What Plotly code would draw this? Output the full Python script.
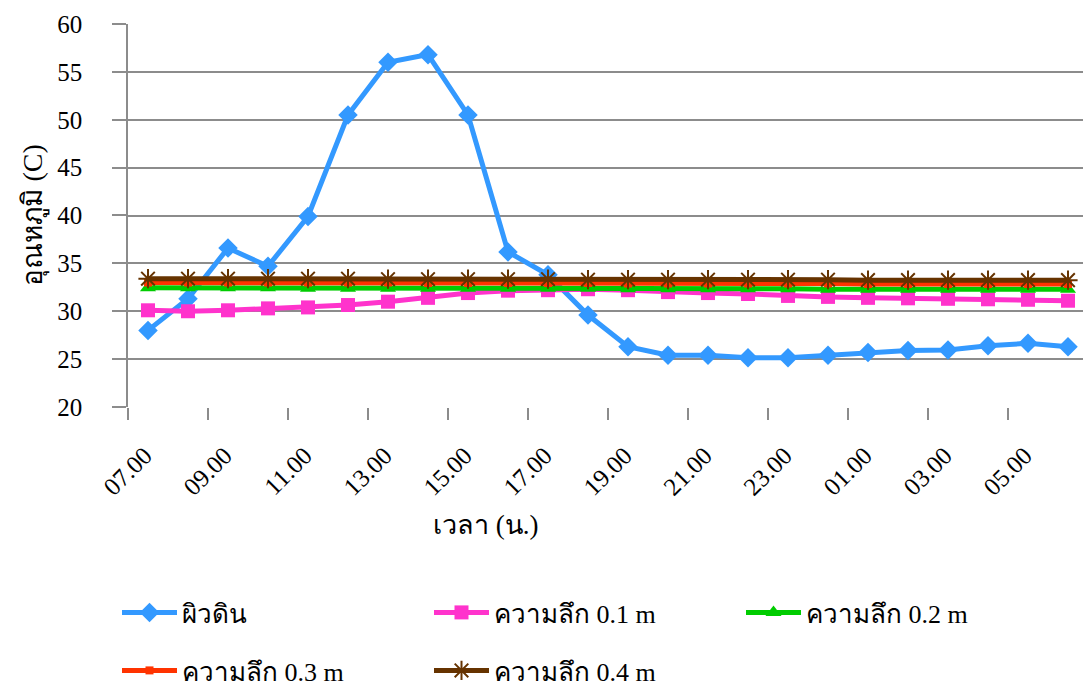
import plotly.graph_objects as go

hours = ["07.00", "08.00", "09.00", "10.00", "11.00", "12.00", "13.00", "14.00",
         "15.00", "16.00", "17.00", "18.00", "19.00", "20.00", "21.00", "22.00",
         "23.00", "24.00", "01.00", "02.00", "03.00", "04.00", "05.00", "06.00"]

surface = [28.0, 31.3, 36.6, 34.7, 39.9, 50.5, 56.0, 56.8, 50.5, 36.2, 33.8, 29.6,
           26.3, 25.4, 25.4, 25.15, 25.15, 25.4, 25.7, 25.9, 25.95, 26.4, 26.65, 26.3]
depth01 = [30.1, 30.0, 30.1, 30.3, 30.4, 30.65, 31.0, 31.4, 31.9, 32.15, 32.2, 32.3,
           32.2, 32.0, 31.9, 31.8, 31.6, 31.5, 31.4, 31.35, 31.3, 31.25, 31.2, 31.1]
depth02 = [32.45, 32.45, 32.45, 32.45, 32.4, 32.4, 32.4, 32.4, 32.4, 32.4, 32.4, 32.4,
           32.35, 32.35, 32.35, 32.35, 32.35, 32.3, 32.3, 32.3, 32.3, 32.3, 32.3, 32.3]
depth03 = [33.0, 33.0, 33.0, 33.0, 33.0, 33.0, 33.0, 32.95, 32.95, 32.95, 32.95, 32.95,
           32.9, 32.9, 32.9, 32.9, 32.9, 32.9, 32.85, 32.85, 32.85, 32.85, 32.85, 32.85]
depth04 = [33.4, 33.4, 33.4, 33.4, 33.4, 33.4, 33.35, 33.35, 33.35, 33.35, 33.35, 33.3,
           33.3, 33.3, 33.3, 33.3, 33.3, 33.3, 33.25, 33.25, 33.25, 33.25, 33.25, 33.25]

names = ["ผิวดิน", "ความลึก 0.1 m", "ความลึก 0.2 m", "ความลึก 0.3 m", "ความลึก 0.4 m"]
yticks = [20, 25, 30, 35, 40, 45, 50, 55, 60]
y_title = "อุณหภูมิ (C)"
x_title = "เวลา (น.)"

FONT = "Liberation Serif"
GRID = "#8c8c8c"
CLEAR = "rgba(0,0,0,0)"

idx = list(range(len(hours)))            # category positions
label_idx = idx[::2]                     # every other hour is labelled
boundaries = [i - 0.5 for i in label_idx]

fig = go.Figure()
fig.add_trace(go.Scatter(x=idx, y=surface, name=names[0], mode="lines+markers",
                         line=dict(color="#3399FF", width=5),
                         marker=dict(symbol="diamond", size=15, color="#3399FF"),
                         legend="legend"))
fig.add_trace(go.Scatter(x=idx, y=depth01, name=names[1], mode="lines+markers",
                         line=dict(color="#FF33CC", width=5),
                         marker=dict(symbol="square", size=14, color="#FF33CC"),
                         legend="legend"))
fig.add_trace(go.Scatter(x=idx, y=depth02, name=names[2], mode="lines+markers",
                         line=dict(color="#00CC00", width=5),
                         marker=dict(symbol="triangle-up", size=14, color="#00CC00"),
                         legend="legend"))
fig.add_trace(go.Scatter(x=idx, y=depth03, name=names[3], mode="lines+markers",
                         line=dict(color="#FF3300", width=5),
                         marker=dict(symbol="square", size=8, color="#FF3300"),
                         legend="legend2"))
fig.add_trace(go.Scatter(x=idx, y=depth04, name=names[4], mode="lines+markers",
                         line=dict(color="#663300", width=5),
                         marker=dict(symbol="asterisk-open", size=16,
                                     line=dict(color="#996633", width=2)),
                         legend="legend2"))

legend_common = dict(orientation="h", xref="container", yref="container",
                     xanchor="left", yanchor="top", itemwidth=55,
                     entrywidth=242, entrywidthmode="pixels",
                     font=dict(family=FONT, size=26), bgcolor=CLEAR)

L, R, T, B = 128, 0, 24, 281
W, H = 1083, 688
pw, ph = W - L - R, H - T - B

fig.update_layout(
    width=W, height=H,
    margin=dict(l=L, r=R, t=T, b=B),
    paper_bgcolor="white", plot_bgcolor="white",
    font=dict(family=FONT, size=25, color="black"),
    showlegend=True,
    legend=dict(legend_common, x=117 / W, y=1 - 589 / H),
    legend2=dict(legend_common, x=117 / W, y=1 - 647 / H),
    xaxis=dict(range=[-0.5, 23.375], tickmode="array",
               tickvals=[i - 0.08 for i in label_idx],
               ticktext=[hours[i] for i in label_idx],
               ticks="outside", ticklen=23, tickwidth=1, tickcolor=CLEAR,
               minor=dict(tickmode="array", tickvals=boundaries, ticks="outside",
                          ticklen=12, tickwidth=1.5, tickcolor=GRID, showgrid=False),
               showgrid=False, showline=False, zeroline=False,
               tickangle=-45, tickfont=dict(family=FONT, size=25)),
    yaxis=dict(range=[20, 60], tickmode="array", tickvals=yticks,
               ticks="outside", ticklen=39, tickwidth=1, tickcolor=CLEAR,
               minor=dict(tickmode="array", tickvals=[v + 0.001 for v in yticks],
                          ticks="outside", ticklen=14, tickwidth=1.5,
                          tickcolor=GRID, showgrid=False),
               showgrid=True, gridcolor=GRID, gridwidth=1.5,
               showline=True, linecolor=GRID, linewidth=1.5, zeroline=False,
               tickfont=dict(family=FONT, size=25)),
    annotations=[
        dict(text=x_title, xref="paper", yref="paper",
             x=(485 - L) / pw, y=(H - B - 525) / ph,
             xanchor="center", yanchor="middle", showarrow=False,
             font=dict(family=FONT, size=27)),
        dict(text=y_title, xref="paper", yref="paper", textangle=-90,
             x=(33 - L) / pw, y=0.5, xanchor="center", yanchor="middle",
             showarrow=False, font=dict(family=FONT, size=28)),
    ],
)

fig.write_html("out.html")
